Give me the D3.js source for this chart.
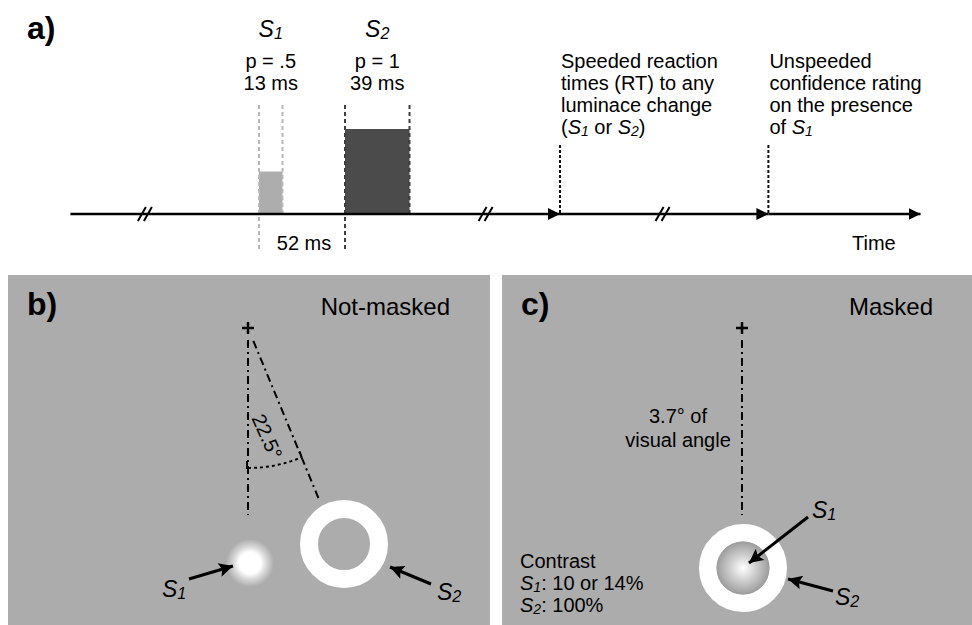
<!DOCTYPE html>
<html><head><meta charset="utf-8">
<script src="https://cdn.jsdelivr.net/npm/d3@7"></script>
<style>html,body{margin:0;padding:0;background:#fff}svg{display:block}</style>
</head><body>
<script>
// ---- data ----
const stimNames = ["S1", "S2"];
const stimProb = ["p = .5", "p = 1"];
const stimDur = [13, 39];          // ms
const stimOnset = [0, 52];          // ms
const stimLevel = [0.5, 1];         // relative luminance step
const soaLabel = "52 ms";
const timelineExtent = [-114, 400]; // schematic ms
const breakTimes = [-69, 137, 244];
const eventTimes = [182, 308];
const eventLines = [
  [["Speeded reaction"], ["times (RT) to any"], ["luminace change"], ["(", ["S", "i"], ["1", "sub"], " or ", ["S", "i"], ["2", "sub"], ")"]],
  [["Unspeeded"], ["confidence rating"], ["on the presence"], ["of ", ["S", "i"], ["1", "sub"]]]
];
const panelTitles = ["Not-masked", "Masked"];
const panelLetters = ["b)", "c)"];
const eccentricityDeg = 22.5;
const angleLabel = "22.5°";
const distLabel = ["3.7° of", "visual angle"];
const contrastLines = [["Contrast"], [["S", "i"], ["1", "sub"], ": 10 or 14%"], [["S", "i"], ["2", "sub"], ": 100%"]];

const W = 972, H = 625;
const FONT = "'Liberation Sans', Arial, Helvetica, sans-serif";
const svg = d3.select("body").append("svg").attr("width", W).attr("height", H)
  .style("font-family", FONT);

function rich(textSel, segs) {
  let shift = 0;
  segs.forEach(s => {
    let t = s, k = null;
    if (Array.isArray(s)) { t = s[0]; k = s[1] || null; }
    const ts = textSel.append("tspan").text(t);
    let want = 0;
    if (k === "i") ts.attr("font-style", "italic");
    if (k === "sub") { ts.attr("font-style", "italic").attr("font-size", "0.7em"); want = 2; }
    if (want !== shift) { ts.attr("dy", want - shift); shift = want; }
  });
}

const defs = svg.append("defs");
defs.append("marker").attr("id", "tri").attr("viewBox", "0 0 10 10").attr("refX", 10).attr("refY", 5)
  .attr("markerWidth", 12).attr("markerHeight", 12).attr("markerUnits", "userSpaceOnUse").attr("orient", "auto")
  .append("path").attr("d", "M0,0 L10,5 L0,10 Z").attr("fill", "#000");
defs.append("marker").attr("id", "arr").attr("viewBox", "0 0 10 10").attr("refX", 10).attr("refY", 5)
  .attr("markerWidth", 16).attr("markerHeight", 14).attr("markerUnits", "userSpaceOnUse").attr("orient", "auto")
  .append("path").attr("d", "M0,0 L10,5 L0,10 L2,5 Z").attr("fill", "#000");
const g1 = defs.append("radialGradient").attr("id", "blob");
g1.append("stop").attr("offset", "0%").attr("stop-color", "#fff").attr("stop-opacity", 1);
g1.append("stop").attr("offset", "45%").attr("stop-color", "#fff").attr("stop-opacity", 1);
g1.append("stop").attr("offset", "70%").attr("stop-color", "#fff").attr("stop-opacity", 0.5);
g1.append("stop").attr("offset", "100%").attr("stop-color", "#fff").attr("stop-opacity", 0);
const g2 = defs.append("radialGradient").attr("id", "disc");
g2.append("stop").attr("offset", "0%").attr("stop-color", "#ffffff");
g2.append("stop").attr("offset", "100%").attr("stop-color", "#9c9c9c");

// ---- panel a: timeline ----
const x = d3.scaleLinear().domain([0, 52]).range([259, 345]);
const y = d3.scaleLinear().domain([0, 1]).range([214, 129]);
const axisY = y(0);

svg.append("text").attr("x", 27).attr("y", 39).attr("font-size", 32).attr("font-weight", "bold").text("a)");

const stim = stimNames.map((n, i) => ({ n, p: stimProb[i], d: stimDur[i], o: stimOnset[i], l: stimLevel[i] }));
const barCol = ["#adadad", "#4b4b4b"];
const dashCol = ["#b8b8b8", "#3e3e3e"];
stim.forEach((s, i) => {
  const x0 = x(s.o), x1 = x(s.o + s.d) + (i === 0 ? 2 : 0);
  svg.append("rect").attr("x", x0).attr("y", y(s.l)).attr("width", x1 - x0).attr("height", axisY - y(s.l)).attr("fill", barCol[i]);
  [[x0, 250], [x1, axisY]].forEach(([xx, yb]) => {
    svg.append("line").attr("x1", xx).attr("x2", xx).attr("y1", 105).attr("y2", yb)
      .attr("stroke", dashCol[i]).attr("stroke-width", 2).attr("stroke-dasharray", "4,3");
  });
  const cx = (x0 + x1) / 2;
  const t = svg.append("text").attr("x", cx).attr("y", 37).attr("text-anchor", "middle").attr("font-size", 23);
  rich(t, [[s.n[0], "i"], [s.n.slice(1), "sub"]]);
  svg.append("text").attr("x", cx).attr("y", 68).attr("text-anchor", "middle").attr("font-size", 20).text(s.p);
  svg.append("text").attr("x", cx).attr("y", 90).attr("text-anchor", "middle").attr("font-size", 20).text(s.d + " ms");
});
svg.append("text").attr("x", (x(stimOnset[0]) + x(stimOnset[1])) / 2 + 2).attr("y", 250).attr("text-anchor", "middle")
  .attr("font-size", 20).text(soaLabel);

// axis segments with arrows
const stops = [timelineExtent[0], ...eventTimes, timelineExtent[1]];
for (let i = 0; i < stops.length - 1; i++) {
  svg.append("line").attr("x1", x(stops[i])).attr("x2", x(stops[i + 1])).attr("y1", axisY).attr("y2", axisY)
    .attr("stroke", "#000").attr("stroke-width", 2.5).attr("marker-end", "url(#tri)");
}
breakTimes.forEach(b => {
  const bx = x(b);
  [-3, 3].forEach(o => {
    svg.append("line").attr("x1", bx + o - 4).attr("y1", axisY + 7).attr("x2", bx + o + 4).attr("y2", axisY - 7)
      .attr("stroke", "#000").attr("stroke-width", 2);
  });
});
eventTimes.forEach((e, i) => {
  const ex = x(e);
  svg.append("line").attr("x1", ex).attr("x2", ex).attr("y1", 145).attr("y2", axisY)
    .attr("stroke", "#111").attr("stroke-width", 2).attr("stroke-dasharray", "3,2");
  eventLines[i].forEach((ln, j) => {
    const t = svg.append("text").attr("x", ex + 1).attr("y", 68 + j * 22).attr("font-size", 20);
    rich(t, ln);
  });
});
svg.append("text").attr("x", 852).attr("y", 250).attr("font-size", 20).text("Time");

// ---- panels b, c ----
const panels = [{ x0: 8, x1: 490 }, { x0: 502, x1: 972 }];
const panelTop = 275;
panels.forEach((p, i) => {
  svg.append("rect").attr("x", p.x0).attr("y", panelTop).attr("width", p.x1 - p.x0).attr("height", H - panelTop).attr("fill", "#acacac");
  svg.append("text").attr("x", p.x0 + 19).attr("y", 315).attr("font-size", 32).attr("font-weight", "bold").text(panelLetters[i]);
});
svg.append("text").attr("x", 450).attr("y", 315).attr("text-anchor", "end").attr("font-size", 24).text(panelTitles[0]);
svg.append("text").attr("x", 933).attr("y", 315).attr("text-anchor", "end").attr("font-size", 24).text(panelTitles[1]);

function cross(cx, cy) {
  svg.append("path").attr("d", `M${cx - 6},${cy} H${cx + 6} M${cx},${cy - 6} V${cy + 6}`).attr("stroke", "#000").attr("stroke-width", 2.5);
}
const dd = "8,4,2,4";
const rad = 187; // px for 3.7 deg
function polar(cx, cy, deg, r) {
  const a = deg * Math.PI / 180;
  return [cx + r * Math.sin(a), cy + r * Math.cos(a)];
}
function arrow(x1, y1, x2, y2) {
  svg.append("line").attr("x1", x1).attr("y1", y1).attr("x2", x2).attr("y2", y2)
    .attr("stroke", "#000").attr("stroke-width", 3).attr("marker-end", "url(#arr)");
}
function label(xx, yy, n) {
  const t = svg.append("text").attr("x", xx).attr("y", yy).attr("font-size", 23);
  rich(t, [[n[0], "i"], [n.slice(1), "sub"]]);
}

// panel b
{
  const cx = 248, cy = 328;
  cross(cx, cy);
  svg.append("line").attr("x1", cx).attr("y1", cy + 12).attr("x2", cx).attr("y2", cy + rad)
    .attr("stroke", "#000").attr("stroke-width", 2).attr("stroke-dasharray", dd);
  const a0 = polar(cx, cy, eccentricityDeg, 14), a1 = polar(cx, cy, eccentricityDeg, rad);
  svg.append("line").attr("x1", a0[0]).attr("y1", a0[1]).attr("x2", a1[0]).attr("y2", a1[1])
    .attr("stroke", "#000").attr("stroke-width", 2).attr("stroke-dasharray", dd);
  // angle arc
  const arcPts = d3.range(0, eccentricityDeg + 0.01, 1.5).map(d => polar(cx, cy, d, 140));
  svg.append("path").attr("d", d3.line()(arcPts)).attr("fill", "none").attr("stroke", "#000")
    .attr("stroke-width", 2).attr("stroke-dasharray", "3,3");
  svg.append("line").attr("x1", cx - 1).attr("y1", cy + 133).attr("x2", cx - 1).attr("y2", cy + 141).attr("stroke", "#000").attr("stroke-width", 2);
  const tp = polar(cx, cy, eccentricityDeg, 140);
  svg.append("line").attr("x1", tp[0]).attr("y1", tp[1]).attr("x2", tp[0] - 2).attr("y2", tp[1] - 6).attr("stroke", "#000").attr("stroke-width", 2);
  const lp = polar(cx, cy, 9.5, 110);
  svg.append("text").attr("transform", `translate(${lp[0] + 1},${lp[1]}) rotate(66)`).attr("text-anchor", "middle")
    .attr("dy", "0.35em").attr("font-size", 20).text(angleLabel);
  // S1 blob
  svg.append("circle").attr("cx", 250).attr("cy", 563).attr("r", 24).attr("fill", "url(#blob)");
  // S2 ring
  svg.append("circle").attr("cx", 344).attr("cy", 544).attr("r", 35).attr("fill", "none").attr("stroke", "#fff").attr("stroke-width", 18);
  arrow(189, 579, 233, 566);
  label(162, 597, stimNames[0]);
  arrow(431, 584, 390, 567);
  label(437, 600, stimNames[1]);
}
// panel c
{
  const cx = 742, cy = 328;
  cross(cx, cy);
  svg.append("line").attr("x1", cx).attr("y1", cy + 12).attr("x2", cx).attr("y2", cy + rad)
    .attr("stroke", "#000").attr("stroke-width", 2).attr("stroke-dasharray", dd);
  distLabel.forEach((s, j) => svg.append("text").attr("x", 678).attr("y", 423 + j * 24).attr("text-anchor", "middle").attr("font-size", 20).text(s));
  svg.append("circle").attr("cx", 743).attr("cy", 568).attr("r", 35.2).attr("fill", "none").attr("stroke", "#fff").attr("stroke-width", 17.6);
  svg.append("circle").attr("cx", 743).attr("cy", 568).attr("r", 26.5).attr("fill", "url(#disc)");
  arrow(808, 517, 749, 563);
  label(812, 518, stimNames[0]);
  arrow(833, 591, 788, 579);
  label(835, 605, stimNames[1]);
  contrastLines.forEach((ln, j) => {
    const t = svg.append("text").attr("x", 520).attr("y", 568 + j * 22).attr("font-size", 20);
    rich(t, ln);
  });
}
</script>
</body></html>
